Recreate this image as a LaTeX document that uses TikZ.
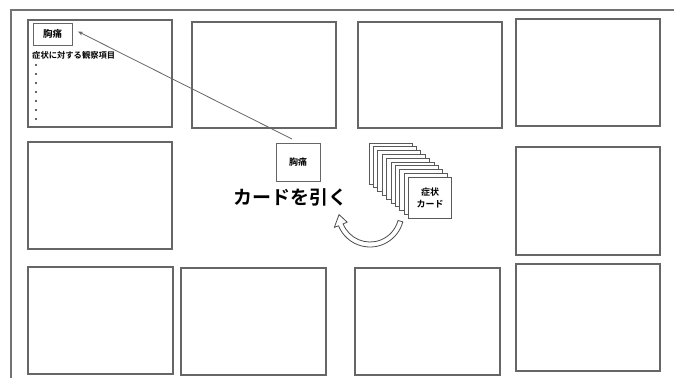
\documentclass[tikz,border=0pt]{standalone}
\usepackage{fontspec}
\newfontfamily\jp{Noto Sans CJK JP}[BoldFont={Noto Sans CJK JP Bold}]
\usetikzlibrary{calc,arrows.meta}
\begin{document}
\begin{tikzpicture}[x=1pt,y=-1pt,
  frame/.style={draw=black!55, line width=1.1pt},
  box/.style={draw=black!60, line width=1.1pt, inner sep=0pt, outer sep=0pt, fill=white},
  card/.style={draw=black!65, line width=0.9pt, inner sep=0pt, outer sep=0pt, fill=white, minimum width=43pt, minimum height=41pt},
  label/.style={font=\jp\bfseries, text=black}]
\useasboundingbox (0,0) rectangle (674,378);
\fill[white] (0,0) rectangle (674,378);
% outer frame
\draw[frame] (11,378) -- (11,10) -- (674,10);
% top row
\node[box, minimum width=144pt, minimum height=107pt] (t1) at (100,73.5) {};
\node[box, minimum width=144pt, minimum height=106pt] (t2) at (264,75) {};
\node[box, minimum width=144pt, minimum height=106pt] (t3) at (430,75) {};
\node[box, minimum width=144pt, minimum height=107pt] (t4) at (588,72.5) {};
% middle row
\node[box, minimum width=144pt, minimum height=107pt] (m1) at (100,195.5) {};
\node[box, minimum width=144pt, minimum height=108pt] (m2) at (588,201) {};
% bottom row
\node[box, minimum width=145pt, minimum height=107pt] (b1) at (100.5,320.5) {};
\node[box, minimum width=145pt, minimum height=107pt] (b2) at (253.5,321.5) {};
\node[box, minimum width=145pt, minimum height=107pt] (b3) at (427.5,321.5) {};
\node[box, minimum width=144pt, minimum height=107pt] (b4) at (588,317.5) {};
% contents of top-left box
\node[box, line width=0.9pt, minimum width=39pt, minimum height=22pt, label, font=\jp\bfseries\fontsize{9.5}{11}\selectfont] (sym) at (52.5,34) {胸痛};
\node[label, anchor=west, inner sep=0pt, font=\jp\bfseries\fontsize{8.3}{10}\selectfont] (obs) at (32,55) {症状に対する観察項目};
\foreach \yy [count=\i] in {65,74,83,92,101,110,119}
  \fill[black!80] (36,\yy) circle (1.1);
% drawn card
\node[box, line width=0.9pt, minimum width=44pt, minimum height=38pt, label, font=\jp\bfseries\fontsize{9}{11}\selectfont] (drawn) at (298,162) {胸痛};
\coordinate (from) at (292,139);
\coordinate (to) at ($(sym.east)+(6,-2.5)$);
\draw[draw=black!60, line width=0.8pt, -{Stealth[length=5pt,width=4pt]}] (from) -- (to);
% title
\node[label, font=\jp\bfseries\fontsize{19}{22}\selectfont, inner sep=0pt] (title) at (290,197) {カードを引く};
% stack of cards
\foreach \i in {0,...,8}
  \node[card] (c\i) at ({369+4.4*\i+21.5},{143+3.8*\i+20.5}) {};
\node[card, label, align=center, font=\jp\bfseries\fontsize{9}{12}\selectfont] (front) at ({369+4.4*9+21.5},{143+3.8*9+20.5}) {症状\\カード};
% curved hollow arrow
\coordinate (c) at (370,213);
\draw[draw=black!70, line width=0.8pt, fill=white, line join=round]
  ($(c)+(15:34)$) arc[start angle=15, end angle=158, radius=34]
  -- ($(c)+(158:38.5)$) -- ($(c)+(177:31)$) -- ($(c)+(158:24.5)$)
  -- ($(c)+(158:29)$) arc[start angle=158, end angle=15, radius=29] -- cycle;
\end{tikzpicture}
\end{document}
